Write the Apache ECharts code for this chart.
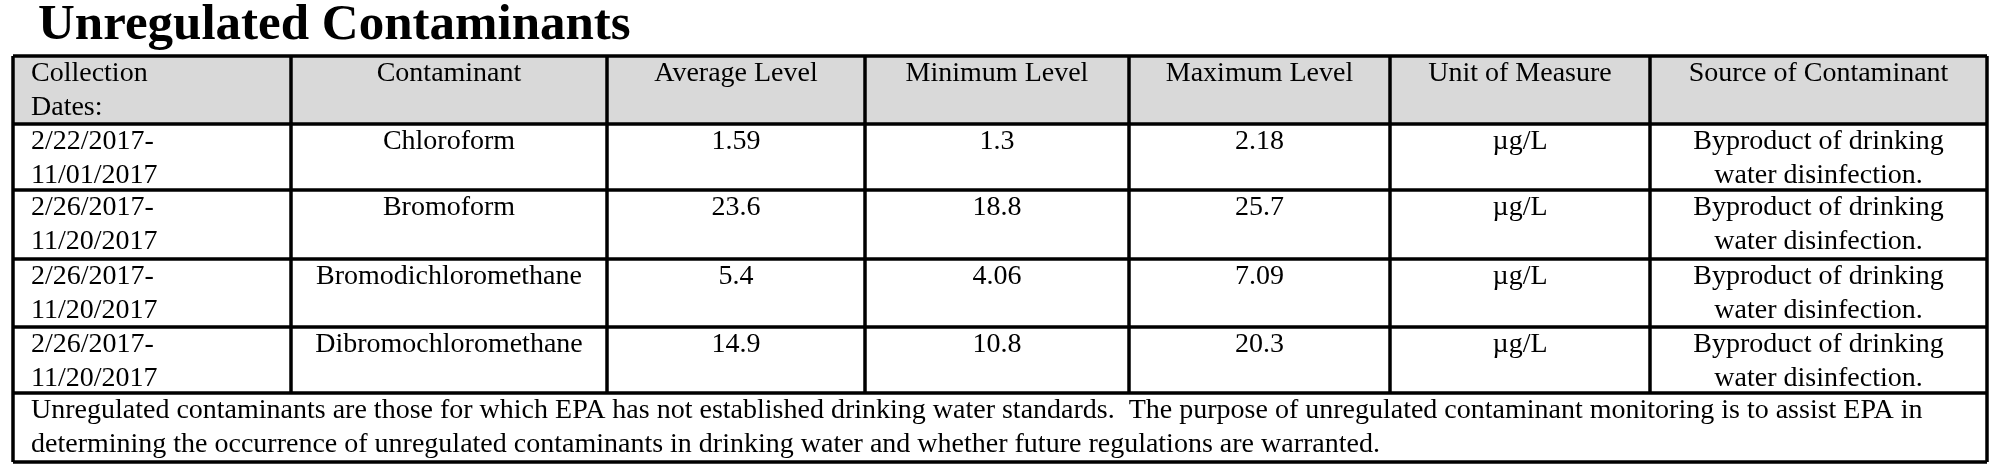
<!DOCTYPE html>
<html><head><meta charset="utf-8">
<script src="https://cdn.jsdelivr.net/npm/echarts@6/dist/echarts.min.js"></script>
<style>html,body{margin:0;background:#fff}#c{width:2000px;height:475px}</style>
</head><body><div id="c"></div>
<script>
const title = 'Unregulated Contaminants';
const headers = ['Collection\nDates:', 'Contaminant', 'Average Level', 'Minimum Level', 'Maximum Level', 'Unit of Measure', 'Source of Contaminant'];
const dates = ['2/22/2017-\n11/01/2017', '2/26/2017-\n11/20/2017', '2/26/2017-\n11/20/2017', '2/26/2017-\n11/20/2017'];
const contaminants = ['Chloroform', 'Bromoform', 'Bromodichloromethane', 'Dibromochloromethane'];
const avgLevel = ['1.59', '23.6', '5.4', '14.9'];
const minLevel = ['1.3', '18.8', '4.06', '10.8'];
const maxLevel = ['2.18', '25.7', '7.09', '20.3'];
const units = ['µg/L', 'µg/L', 'µg/L', 'µg/L'];
const sources = ['Byproduct of drinking\nwater disinfection.', 'Byproduct of drinking\nwater disinfection.', 'Byproduct of drinking\nwater disinfection.', 'Byproduct of drinking\nwater disinfection.'];
const footnote = 'Unregulated contaminants are those for which EPA has not established drinking water standards.  The purpose of unregulated contaminant monitoring is to assist EPA in\ndetermining the occurrence of unregulated contaminants in drinking water and whether future regulations are warranted.';

const colX = [13, 291, 607, 865, 1129, 1390, 1650, 1987];
const rowY = [56, 124, 190, 259, 327, 393, 462];
const font = 'Liberation Serif, Times New Roman, serif';
const fs = 28, lh = 34;
const els = [];
els.push({type:'text', left:38, top:0, style:{text:title, font:'bold 51px '+font, fill:'#000'}});
els.push({type:'rect', shape:{x:colX[0], y:rowY[0], width:colX[7]-colX[0], height:rowY[1]-rowY[0]}, style:{fill:'#d9d9d9'}});
function cell(txt, c, r, align) {
  const x = align === 'left' ? colX[c] + 18 : (colX[c] + colX[c+1]) / 2;
  els.push({type:'text', x:x, y:rowY[r] + 1, style:{text:txt, font:fs+'px '+font, lineHeight:lh, fill:'#000', align:align, verticalAlign:'top'}});
}
headers.forEach((h, i) => cell(h, i, 0, i === 0 ? 'left' : 'center'));
const cols = [dates, contaminants, avgLevel, minLevel, maxLevel, units, sources];
contaminants.forEach((_, r) => cols.forEach((arr, c) => cell(arr[r], c, r + 1, c === 0 ? 'left' : 'center')));
els.push({type:'text', x:colX[0] + 18, y:rowY[5] + 1, style:{text:footnote, font:fs+'px '+font, lineHeight:lh, fill:'#000', align:'left', verticalAlign:'top'}});
const ls = {stroke:'#000', lineWidth:3.5};
rowY.forEach(y => els.push({type:'line', shape:{x1:colX[0], y1:y, x2:colX[7], y2:y}, style:ls}));
colX.forEach((x, i) => {
  const yEnd = (i === 0 || i === colX.length - 1) ? rowY[6] : rowY[5];
  els.push({type:'line', shape:{x1:x, y1:rowY[0], x2:x, y2:yEnd}, style:ls});
});
const chart = echarts.init(document.getElementById('c'));
chart.setOption({animation:false, graphic:{elements:els}});
</script></body></html>
